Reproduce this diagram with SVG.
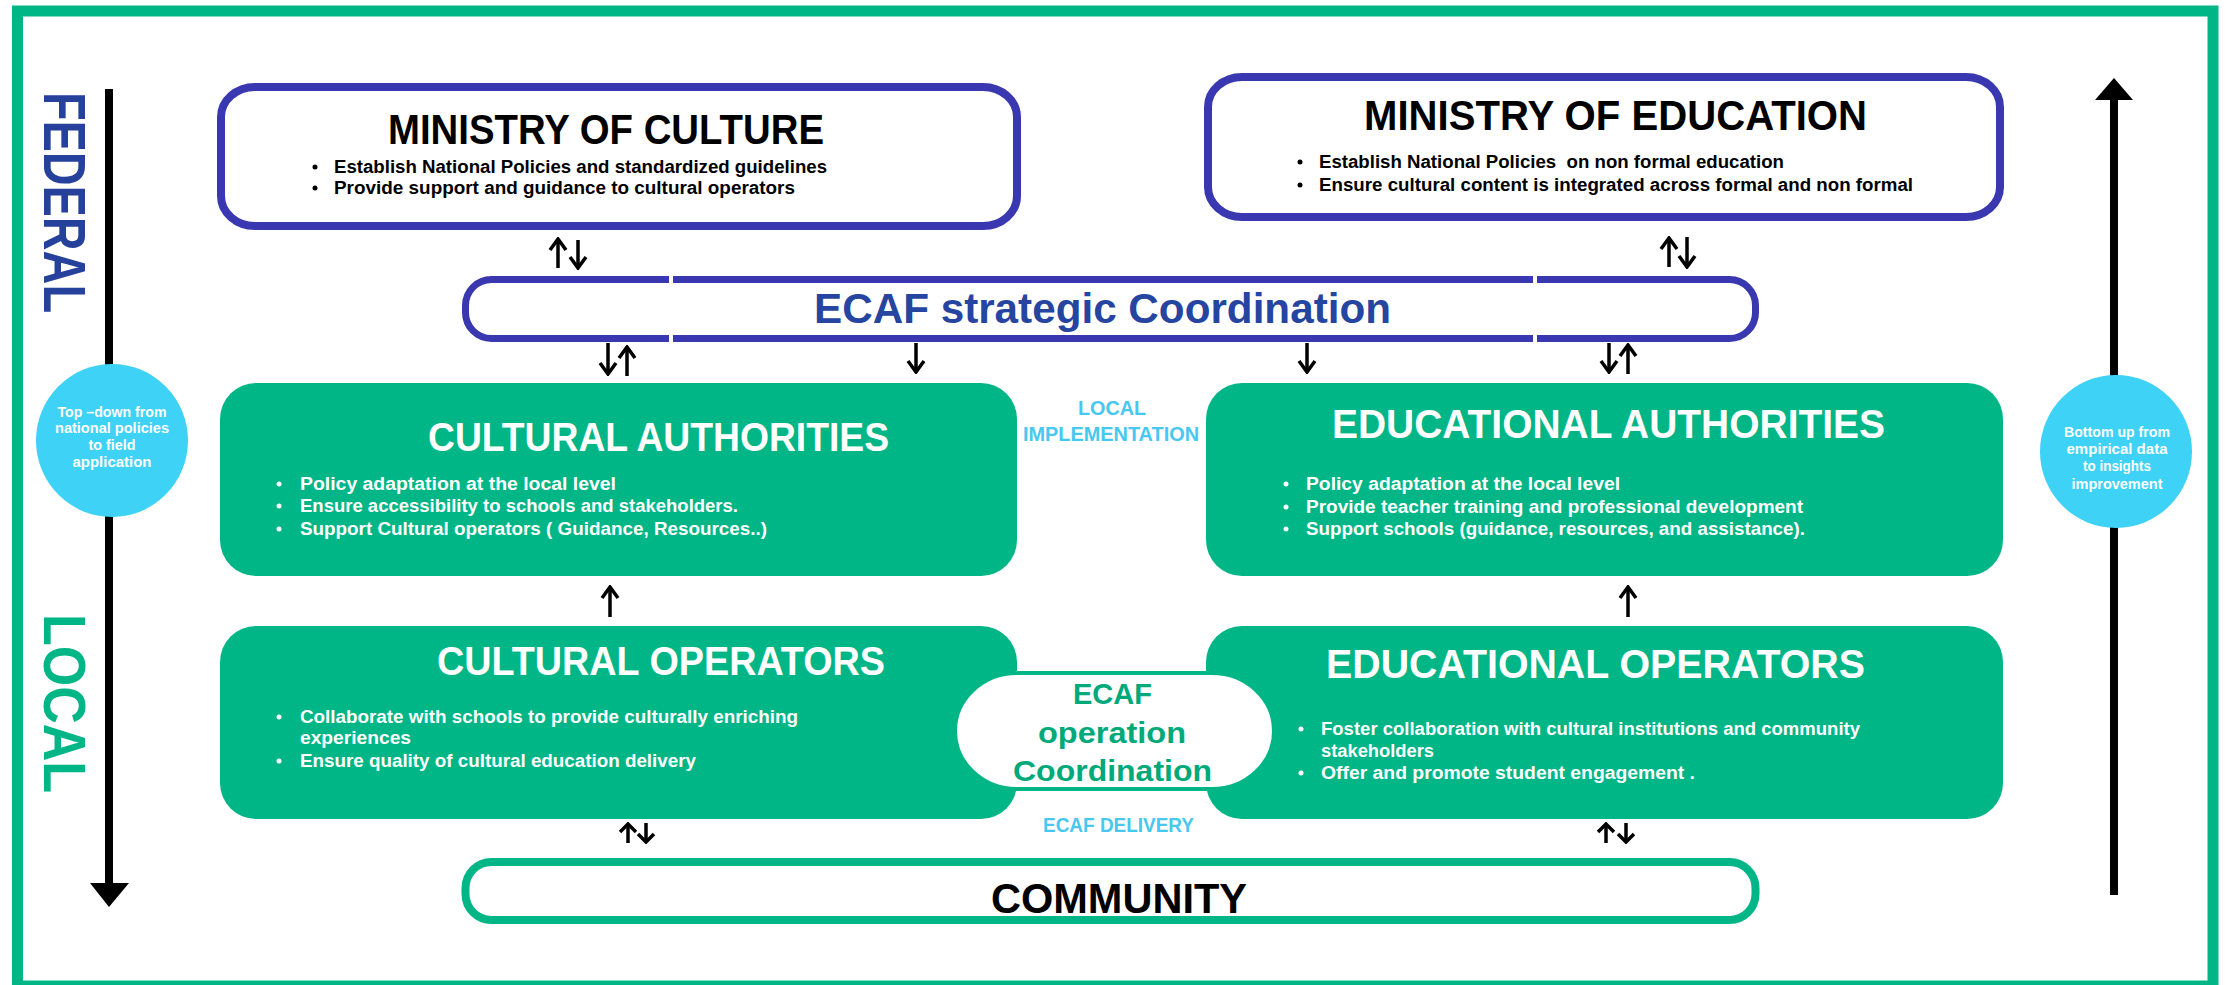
<svg xmlns="http://www.w3.org/2000/svg" width="2231" height="985" viewBox="0 0 2231 985">
<defs>
<style>
.t{font-family:"Liberation Sans",Arial,sans-serif;font-weight:bold}
.title{font-size:43px;fill:#000}
.gtitle{font-size:41px;fill:#fff}
.b{font-size:17.5px;fill:#000}
.wb{font-size:17.5px;fill:#fff}
.lb{font-size:21px;fill:#48C8F0}
.circ{font-size:14px;fill:#fff}
.gbox{fill:#00B686}
.bbox{fill:#fff;stroke:#3A38B1;stroke-width:8}
.conn{stroke:#000;stroke-width:3.5;fill:none}
</style>
<marker id="ah" viewBox="-14 -10 16 20" refX="0" refY="0" markerWidth="16" markerHeight="20" markerUnits="userSpaceOnUse" orient="auto">
<path d="M-11,-8 L0,0 L-11,8" fill="none" stroke="#000" stroke-width="3.5"/>
</marker>
<marker id="ah2" viewBox="-12 -10 14 20" refX="0" refY="0" markerWidth="14" markerHeight="20" markerUnits="userSpaceOnUse" orient="auto">
<path d="M-8,-8 L0,0 L-8,8" fill="none" stroke="#000" stroke-width="3.5"/>
</marker>
</defs>
<rect width="2231" height="985" fill="#fff"/>
<rect x="17.5" y="11" width="2195.5" height="975" fill="none" stroke="#00B686" stroke-width="11"/>

<g id="federal-label">
<text class="t" transform="translate(44,92) rotate(90)" font-size="60" fill="#25419B" textLength="221" lengthAdjust="spacingAndGlyphs">FEDERAL</text>
</g>
<g id="local-label">
<text class="t" transform="translate(44,614) rotate(90)" font-size="60" fill="#00B686" textLength="179" lengthAdjust="spacingAndGlyphs">LOCAL</text>
</g>

<g id="axis-arrows">
<line x1="109" y1="89" x2="109" y2="886" stroke="#000" stroke-width="8"/>
<polygon points="90,883 129,883 109,907" fill="#000"/>
<line x1="2114" y1="98" x2="2114" y2="895" stroke="#000" stroke-width="8"/>
<polygon points="2095,100 2133,100 2114,78" fill="#000"/>
</g>

<g id="topdown-circle">
<ellipse cx="112" cy="440.5" rx="76" ry="76.5" fill="#3DD2F6"/>
<text class="t circ" x="112" y="417" text-anchor="middle" textLength="109" lengthAdjust="spacingAndGlyphs">Top –down from</text>
<text class="t circ" x="112" y="433" text-anchor="middle" textLength="114" lengthAdjust="spacingAndGlyphs">national policies</text>
<text class="t circ" x="112" y="450" text-anchor="middle" textLength="47" lengthAdjust="spacingAndGlyphs">to field</text>
<text class="t circ" x="112" y="467" text-anchor="middle" textLength="79" lengthAdjust="spacingAndGlyphs">application</text>
</g>
<g id="bottomup-circle">
<ellipse cx="2116" cy="451.5" rx="76" ry="76.5" fill="#3DD2F6"/>
<text class="t circ" x="2117" y="437" text-anchor="middle" textLength="106" lengthAdjust="spacingAndGlyphs">Bottom up from</text>
<text class="t circ" x="2117" y="454" text-anchor="middle" textLength="101" lengthAdjust="spacingAndGlyphs">empirical data</text>
<text class="t circ" x="2117" y="471" text-anchor="middle" textLength="68" lengthAdjust="spacingAndGlyphs">to insights</text>
<text class="t circ" x="2117" y="489" text-anchor="middle" textLength="91" lengthAdjust="spacingAndGlyphs">improvement</text>
</g>

<g id="ministry-culture">
<rect class="bbox" x="221" y="87" width="796" height="139" rx="34" ry="30"/>
<text class="t title" x="388" y="144" textLength="436" lengthAdjust="spacingAndGlyphs">MINISTRY OF CULTURE</text>
<circle cx="315" cy="167" r="2.5" fill="#000"/>
<text class="t b" x="334" y="173" textLength="493" lengthAdjust="spacingAndGlyphs">Establish National Policies and standardized guidelines</text>
<circle cx="315" cy="188" r="2.5" fill="#000"/>
<text class="t b" x="334" y="194" textLength="461" lengthAdjust="spacingAndGlyphs">Provide support and guidance to cultural operators</text>
</g>

<g id="ministry-education">
<rect class="bbox" x="1208" y="77" width="792" height="140" rx="34" ry="30"/>
<text class="t title" x="1364" y="130" textLength="503" lengthAdjust="spacingAndGlyphs">MINISTRY OF EDUCATION</text>
<circle cx="1300" cy="162" r="2.5" fill="#000"/>
<text class="t b" x="1319" y="168" textLength="465" lengthAdjust="spacingAndGlyphs" xml:space="preserve">Establish National Policies  on non formal education</text>
<circle cx="1300" cy="185" r="2.5" fill="#000"/>
<text class="t b" x="1319" y="191" textLength="594" lengthAdjust="spacingAndGlyphs">Ensure cultural content is integrated across formal and non formal</text>
</g>

<g id="ecaf-strategic">
<rect x="465.5" y="279.5" width="1290" height="59" rx="26" ry="26" fill="#fff" stroke="#3A38B1" stroke-width="7"/>
<rect x="669" y="274" width="4" height="11" fill="#fff"/>
<rect x="669" y="332" width="4" height="11" fill="#fff"/>
<rect x="1533" y="274" width="4" height="11" fill="#fff"/>
<rect x="1533" y="332" width="4" height="11" fill="#fff"/>
<text class="t" x="814" y="323" font-size="42" fill="#2645A0" textLength="577" lengthAdjust="spacingAndGlyphs">ECAF strategic Coordination</text>
</g>

<g id="cultural-authorities">
<rect class="gbox" x="220" y="383" width="797" height="193" rx="36" ry="36"/>
<text class="t gtitle" x="428" y="451" textLength="461" lengthAdjust="spacingAndGlyphs">CULTURAL AUTHORITIES</text>
<circle cx="279" cy="484" r="2.5" fill="#fff"/>
<text class="t wb" x="300" y="490" textLength="316" lengthAdjust="spacingAndGlyphs">Policy adaptation at the local level</text>
<circle cx="279" cy="506" r="2.5" fill="#fff"/>
<text class="t wb" x="300" y="512" textLength="438" lengthAdjust="spacingAndGlyphs">Ensure accessibility to schools and stakeholders.</text>
<circle cx="279" cy="529" r="2.5" fill="#fff"/>
<text class="t wb" x="300" y="535" textLength="467" lengthAdjust="spacingAndGlyphs">Support Cultural operators ( Guidance, Resources..)</text>
</g>

<g id="educational-authorities">
<rect class="gbox" x="1206" y="383" width="797" height="193" rx="36" ry="36"/>
<text class="t gtitle" x="1332" y="438" font-size="42" textLength="553" lengthAdjust="spacingAndGlyphs">EDUCATIONAL AUTHORITIES</text>
<circle cx="1286" cy="484" r="2.5" fill="#fff"/>
<text class="t wb" x="1306" y="490" textLength="314" lengthAdjust="spacingAndGlyphs">Policy adaptation at the local level</text>
<circle cx="1286" cy="507" r="2.5" fill="#fff"/>
<text class="t wb" x="1306" y="513" textLength="497" lengthAdjust="spacingAndGlyphs">Provide teacher training and professional development</text>
<circle cx="1286" cy="529" r="2.5" fill="#fff"/>
<text class="t wb" x="1306" y="535" textLength="499" lengthAdjust="spacingAndGlyphs">Support schools (guidance, resources, and assistance).</text>
</g>

<g id="local-implementation">
<text class="t lb" x="1078" y="415" textLength="68" lengthAdjust="spacingAndGlyphs">LOCAL</text>
<text class="t lb" x="1023" y="441" textLength="176" lengthAdjust="spacingAndGlyphs">IMPLEMENTATION</text>
</g>

<g id="cultural-operators">
<rect class="gbox" x="220" y="626" width="797" height="193" rx="36" ry="36"/>
<text class="t gtitle" x="437" y="675" textLength="448" lengthAdjust="spacingAndGlyphs">CULTURAL OPERATORS</text>
<circle cx="279" cy="717" r="2.5" fill="#fff"/>
<text class="t wb" x="300" y="723" textLength="498" lengthAdjust="spacingAndGlyphs">Collaborate with schools to provide culturally enriching</text>
<text class="t wb" x="300" y="744" textLength="111" lengthAdjust="spacingAndGlyphs">experiences</text>
<circle cx="279" cy="761" r="2.5" fill="#fff"/>
<text class="t wb" x="300" y="767" textLength="396" lengthAdjust="spacingAndGlyphs">Ensure quality of cultural education delivery</text>
</g>

<g id="educational-operators">
<rect class="gbox" x="1206" y="626" width="797" height="193" rx="36" ry="36"/>
<text class="t gtitle" x="1326" y="678" font-size="42" textLength="539" lengthAdjust="spacingAndGlyphs">EDUCATIONAL OPERATORS</text>
<circle cx="1301" cy="729" r="2.5" fill="#fff"/>
<text class="t wb" x="1321" y="735" textLength="539" lengthAdjust="spacingAndGlyphs">Foster collaboration with cultural institutions and community</text>
<text class="t wb" x="1321" y="757" textLength="113" lengthAdjust="spacingAndGlyphs">stakeholders</text>
<circle cx="1301" cy="773" r="2.5" fill="#fff"/>
<text class="t wb" x="1321" y="779" textLength="374" lengthAdjust="spacingAndGlyphs">Offer and promote student engagement .</text>
</g>

<g id="ecaf-operation">
<rect x="955" y="673" width="319" height="116" rx="62" ry="58" fill="#fff" stroke="#00B686" stroke-width="4"/>
<text class="t" x="1073" y="704" font-size="30" fill="#00A97A" textLength="79" lengthAdjust="spacingAndGlyphs">ECAF</text>
<text class="t" x="1038" y="743" font-size="30" fill="#00A97A" textLength="148" lengthAdjust="spacingAndGlyphs">operation</text>
<text class="t" x="1013" y="781" font-size="30" fill="#00A97A" textLength="199" lengthAdjust="spacingAndGlyphs">Coordination</text>
</g>

<g id="ecaf-delivery">
<text class="t lb" x="1043" y="832" textLength="151" lengthAdjust="spacingAndGlyphs">ECAF DELIVERY</text>
</g>

<g id="community">
<rect x="465.5" y="862" width="1290" height="58" rx="26" ry="26" fill="#fff" stroke="#00B686" stroke-width="8"/>
<text class="t title" x="991" y="913" textLength="256" lengthAdjust="spacingAndGlyphs">COMMUNITY</text>
</g>

<g id="connectors">
<line class="conn" x1="558" y1="268" x2="558" y2="239" marker-end="url(#ah)"/>
<line class="conn" x1="578" y1="240" x2="578" y2="268" marker-end="url(#ah)"/>
<line class="conn" x1="1669" y1="267" x2="1669" y2="238" marker-end="url(#ah)"/>
<line class="conn" x1="1687" y1="237" x2="1687" y2="267" marker-end="url(#ah)"/>
<line class="conn" x1="608" y1="343" x2="608" y2="374" marker-end="url(#ah)"/>
<line class="conn" x1="627" y1="376" x2="627" y2="347" marker-end="url(#ah)"/>
<line class="conn" x1="916" y1="343" x2="916" y2="372" marker-end="url(#ah)"/>
<line class="conn" x1="1307" y1="343" x2="1307" y2="372" marker-end="url(#ah)"/>
<line class="conn" x1="1609" y1="343" x2="1609" y2="372" marker-end="url(#ah)"/>
<line class="conn" x1="1628" y1="374" x2="1628" y2="345" marker-end="url(#ah)"/>
<line class="conn" x1="610" y1="617" x2="610" y2="587" marker-end="url(#ah)"/>
<line class="conn" x1="1628" y1="617" x2="1628" y2="587" marker-end="url(#ah)"/>
<line class="conn" x1="628" y1="843" x2="628" y2="824" marker-end="url(#ah2)"/>
<line class="conn" x1="646" y1="823" x2="646" y2="842" marker-end="url(#ah2)"/>
<line class="conn" x1="1606" y1="843" x2="1606" y2="824" marker-end="url(#ah2)"/>
<line class="conn" x1="1626" y1="823" x2="1626" y2="842" marker-end="url(#ah2)"/>
</g>
</svg>
